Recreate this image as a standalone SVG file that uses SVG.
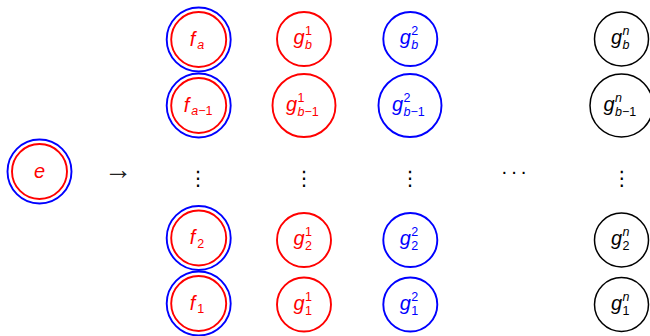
<svg xmlns="http://www.w3.org/2000/svg" width="650" height="336" viewBox="0 0 650 336">
<style>
text{font-family:"Liberation Sans",Arial,sans-serif;}
.m{font-size:20px;font-style:italic;}
.s{font-size:12.5px;}
.i{font-style:italic;}
.r{fill:#ff0000;}
.b{fill:#0000ff;}
.k{fill:#000000;}
.cr{fill:none;stroke:#ff0000;stroke-width:1.9;}
.cb{fill:none;stroke:#0000ff;stroke-width:1.9;}
.ck{fill:none;stroke:#000000;stroke-width:1.5;}
.sym{font-family:"DejaVu Sans",sans-serif;fill:#000;}
</style>
<rect width="650" height="336" fill="#ffffff"/>
<g id="connectors"/>
<g id="node-e"><circle class="cb" cx="39.5" cy="171.5" r="32"/><circle class="cr" cx="39.5" cy="171.5" r="27.5"/><text class="m r" x="39.5" y="178" text-anchor="middle">e</text></g>
<g id="arrow"><text x="118" y="179" font-family="Liberation Serif, DejaVu Serif, serif" font-size="28" fill="#222" text-anchor="middle">→</text></g>

<g id="node-fa"><circle class="cb" cx="198.7" cy="39.5" r="32"/><circle class="cr" cx="198.7" cy="39.5" r="27.5"/><text class="r"><tspan class="m" x="189.7" y="45.5">f</tspan><tspan class="s i" x="197.2" y="49">a</tspan></text></g>
<g id="node-fa1"><circle class="cb" cx="198.7" cy="105.5" r="32"/><circle class="cr" cx="198.7" cy="105.5" r="27.5"/><text class="r"><tspan class="m" x="183.7" y="111.5">f</tspan><tspan class="s" x="191.2" y="115"><tspan class="i">a</tspan>−1</tspan></text></g>
<g id="node-f2"><circle class="cb" cx="198.7" cy="238" r="32"/><circle class="cr" cx="198.7" cy="238" r="27.5"/><text class="r"><tspan class="m" x="189.7" y="244">f</tspan><tspan class="s" x="197.2" y="247.5">2</tspan></text></g>
<g id="node-f1"><circle class="cb" cx="198.7" cy="303.5" r="32"/><circle class="cr" cx="198.7" cy="303.5" r="27.5"/><text class="r"><tspan class="m" x="189.7" y="309.5">f</tspan><tspan class="s" x="197.2" y="313">1</tspan></text></g>

<g id="node-g1b"><circle class="cr" cx="304" cy="39" r="27"/><text class="r"><tspan class="m" x="293.5" y="44">g</tspan><tspan class="s" x="305" y="35">1</tspan><tspan class="s i" x="305" y="49">b</tspan></text></g>
<g id="node-g1b1"><circle class="cr" cx="304" cy="105.5" r="31.5"/><text class="r"><tspan class="m" x="286" y="110.5">g</tspan><tspan class="s" x="297.5" y="101.5">1</tspan><tspan class="s" x="297.5" y="115.5"><tspan class="i">b</tspan>−1</tspan></text></g>
<g id="node-g12"><circle class="cr" cx="304" cy="240" r="27"/><text class="r"><tspan class="m" x="293.5" y="245">g</tspan><tspan class="s" x="305" y="236">1</tspan><tspan class="s" x="305" y="250">2</tspan></text></g>
<g id="node-g11"><circle class="cr" cx="304" cy="304.5" r="27"/><text class="r"><tspan class="m" x="293.5" y="309.5">g</tspan><tspan class="s" x="305" y="300.5">1</tspan><tspan class="s" x="305" y="314.5">1</tspan></text></g>

<g id="node-g2b"><circle class="cb" cx="410.3" cy="39" r="27"/><text class="b"><tspan class="m" x="399.8" y="44">g</tspan><tspan class="s" x="411.3" y="35">2</tspan><tspan class="s i" x="411.3" y="49">b</tspan></text></g>
<g id="node-g2b1"><circle class="cb" cx="410" cy="105.5" r="31.5"/><text class="b"><tspan class="m" x="392" y="110.5">g</tspan><tspan class="s" x="403.5" y="101.5">2</tspan><tspan class="s" x="403.5" y="115.5"><tspan class="i">b</tspan>−1</tspan></text></g>
<g id="node-g22"><circle class="cb" cx="410.3" cy="240" r="27"/><text class="b"><tspan class="m" x="399.8" y="245">g</tspan><tspan class="s" x="411.3" y="236">2</tspan><tspan class="s" x="411.3" y="250">2</tspan></text></g>
<g id="node-g21"><circle class="cb" cx="410.3" cy="304.5" r="27"/><text class="b"><tspan class="m" x="399.8" y="309.5">g</tspan><tspan class="s" x="411.3" y="300.5">2</tspan><tspan class="s" x="411.3" y="314.5">1</tspan></text></g>

<g id="node-gnb"><circle class="ck" cx="621.5" cy="39" r="27"/><text class="k"><tspan class="m" x="611" y="44">g</tspan><tspan class="s i" x="622.5" y="35">n</tspan><tspan class="s i" x="622.5" y="49">b</tspan></text></g>
<g id="node-gnb1"><circle class="ck" cx="621.5" cy="105.5" r="31.5"/><text class="k"><tspan class="m" x="603.5" y="110.5">g</tspan><tspan class="s i" x="615" y="101.5">n</tspan><tspan class="s" x="615" y="115.5"><tspan class="i">b</tspan>−1</tspan></text></g>
<g id="node-gn2"><circle class="ck" cx="621.5" cy="240" r="27"/><text class="k"><tspan class="m" x="611" y="245">g</tspan><tspan class="s i" x="622.5" y="236">n</tspan><tspan class="s" x="622.5" y="250">2</tspan></text></g>
<g id="node-gn1"><circle class="ck" cx="621.5" cy="304.5" r="27"/><text class="k"><tspan class="m" x="611" y="309.5">g</tspan><tspan class="s i" x="622.5" y="300.5">n</tspan><tspan class="s" x="622.5" y="314.5">1</tspan></text></g>

<g id="dots">
<text class="sym" x="198" y="185" font-size="20" text-anchor="middle">⋮</text>
<text class="sym" x="304" y="185" font-size="20" text-anchor="middle">⋮</text>
<text class="sym" x="410" y="185" font-size="20" text-anchor="middle">⋮</text>
<text x="515.5" y="178" font-size="20" letter-spacing="3" fill="#000" text-anchor="middle">···</text>
<text class="sym" x="621.7" y="185" font-size="20" text-anchor="middle">⋮</text>
</g>
</svg>
